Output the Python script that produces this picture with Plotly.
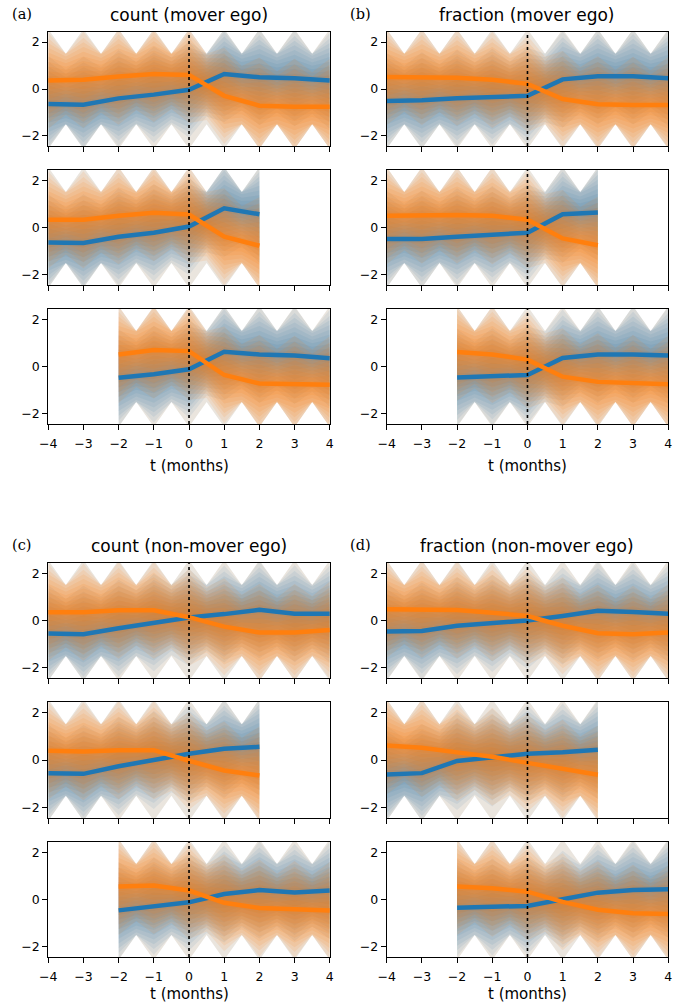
import plotly.graph_objects as go

W, H = 685, 1006

# ---------------- data ----------------
T_FULL = [-4, -3, -2, -1, 0, 1, 2, 3, 4]
T_PRE = [-4, -3, -2, -1, 0, 1, 2]
T_POST = [-2, -1, 0, 1, 2, 3, 4]
ROW_T = [T_FULL, T_PRE, T_POST]

titles = ["count (mover ego)", "fraction (mover ego)",
          "count (non-mover ego)", "fraction (non-mover ego)"]
letters = ["(a)", "(b)", "(c)", "(d)"]
x_ticks = [-4, -3, -2, -1, 0, 1, 2, 3, 4]
y_ticks = [-2, 0, 2]
x_label = "t (months)"

# (a) count (mover ego)
a1_blue = [-0.64, -0.67, -0.40, -0.24, -0.03, 0.64, 0.50, 0.46, 0.36]
a1_orange = [0.36, 0.39, 0.53, 0.64, 0.60, -0.29, -0.71, -0.76, -0.76]
a2_blue = [-0.63, -0.65, -0.39, -0.22, 0.04, 0.81, 0.56]
a2_orange = [0.33, 0.33, 0.50, 0.62, 0.55, -0.39, -0.77]
a3_blue = [-0.48, -0.33, -0.12, 0.62, 0.51, 0.46, 0.35]
a3_orange = [0.51, 0.70, 0.65, -0.36, -0.72, -0.75, -0.77]
# (b) fraction (mover ego)
b1_blue = [-0.51, -0.48, -0.39, -0.33, -0.29, 0.41, 0.54, 0.54, 0.46]
b1_orange = [0.51, 0.51, 0.48, 0.39, 0.22, -0.43, -0.65, -0.68, -0.68]
b2_blue = [-0.49, -0.49, -0.39, -0.30, -0.22, 0.56, 0.63]
b2_orange = [0.50, 0.53, 0.53, 0.50, 0.33, -0.46, -0.75]
b3_blue = [-0.46, -0.43, -0.36, 0.36, 0.51, 0.51, 0.46]
b3_orange = [0.61, 0.51, 0.29, -0.43, -0.65, -0.72, -0.75]
# (c) count (non-mover ego)
c1_blue = [-0.55, -0.58, -0.33, -0.09, 0.13, 0.27, 0.45, 0.29, 0.29]
c1_orange = [0.35, 0.35, 0.43, 0.43, 0.14, -0.26, -0.51, -0.51, -0.40]
c2_blue = [-0.55, -0.58, -0.26, 0.00, 0.26, 0.47, 0.55]
c2_orange = [0.39, 0.36, 0.41, 0.41, -0.03, -0.44, -0.65]
c3_blue = [-0.46, -0.29, -0.12, 0.23, 0.40, 0.30, 0.38]
c3_orange = [0.55, 0.59, 0.38, -0.14, -0.36, -0.42, -0.46]
# (d) fraction (non-mover ego)
d1_blue = [-0.47, -0.44, -0.22, -0.13, 0.00, 0.19, 0.41, 0.36, 0.29]
d1_orange = [0.48, 0.48, 0.44, 0.33, 0.19, -0.22, -0.54, -0.58, -0.51]
d2_blue = [-0.61, -0.55, -0.04, 0.10, 0.26, 0.32, 0.43]
d2_orange = [0.61, 0.51, 0.32, 0.14, -0.12, -0.36, -0.62]
d3_blue = [-0.35, -0.32, -0.27, 0.01, 0.29, 0.40, 0.43]
d3_orange = [0.55, 0.48, 0.33, -0.10, -0.43, -0.58, -0.61]

BLUE_SERIES = [[a1_blue, a2_blue, a3_blue], [b1_blue, b2_blue, b3_blue],
               [c1_blue, c2_blue, c3_blue], [d1_blue, d2_blue, d3_blue]]
ORANGE_SERIES = [[a1_orange, a2_orange, a3_orange], [b1_orange, b2_orange, b3_orange],
                 [c1_orange, c2_orange, c3_orange], [d1_orange, d2_orange, d3_orange]]

# spread of the individual trajectories, drawn as stacked translucent bands
# around each mean (half-widths at integer months), plus a faint outer envelope
band_halfwidths = [0.2, 0.4, 0.6, 0.8, 1.0, 1.2, 1.4, 1.6, 1.8, 2.05]
mid_ratio = 0.72
env_integer = 2.55
env_half = 1.5

# ---------------- layout geometry ----------------
BLUE = "#1f77b4"
ORANGE = "#ff7f0e"
col_x = [(40, 327), (385, 672)]
row_y = [[(32, 146), (170, 285), (309, 424)],
         [(563, 678), (702, 818), (842, 957)]]
group_pos = [(0, 0), (1, 0), (0, 1), (1, 1)]  # (col, block)
YR = [-2.43, 2.43]


def rgba(hexc, a):
    h = hexc.lstrip("#")
    return "rgba(%d,%d,%d,%.3f)" % (int(h[0:2], 16), int(h[2:4], 16), int(h[4:6], 16), a)


def band_poly(ts, m, w):
    """w=None -> full envelope"""
    xs, up, lo = [], [], []
    for i, t in enumerate(ts):
        xs.append(t)
        if w is None:
            up.append(env_integer); lo.append(-env_integer)
        else:
            up.append(min(env_integer, m[i] + w)); lo.append(max(-env_integer, m[i] - w))
        if i < len(ts) - 1:
            mm = (m[i] + m[i + 1]) / 2
            xs.append(t + 0.5)
            if w is None:
                up.append(env_half); lo.append(-env_half)
            else:
                up.append(min(env_half, mm + w * mid_ratio))
                lo.append(max(-env_half, mm - w * mid_ratio))
    return xs + xs[::-1], up + lo[::-1]


fig = go.Figure()
layout = dict(width=W, height=H, margin=dict(l=0, r=0, t=0, b=0),
              paper_bgcolor="white", plot_bgcolor="white", showlegend=False)
annotations = []
shapes = []

for g in range(4):
    col, block = group_pos[g]
    x0, x1 = col_x[col]
    for r in range(3):
        n = g * 3 + r + 1
        xa = "x" if n == 1 else "x%d" % n
        ya = "y" if n == 1 else "y%d" % n
        ts = ROW_T[r]
        mb = BLUE_SERIES[g][r]
        mo = ORANGE_SERIES[g][r]
        for m, c, a, ea in ((mb, BLUE, 0.095, 0.10), (mo, ORANGE, 0.105, 0.10)):
            px, py = band_poly(ts, m, None)
            fig.add_trace(go.Scatter(x=px, y=py, fill="toself", mode="lines",
                                     line=dict(width=0), fillcolor=rgba(c, ea),
                                     hoverinfo="skip", xaxis=xa, yaxis=ya))
            for w in band_halfwidths:
                px, py = band_poly(ts, m, w)
                fig.add_trace(go.Scatter(x=px, y=py, fill="toself", mode="lines",
                                         line=dict(width=0), fillcolor=rgba(c, a),
                                         hoverinfo="skip", xaxis=xa, yaxis=ya))
        fig.add_trace(go.Scatter(x=ts, y=mb, mode="lines", line=dict(color=BLUE, width=4.5),
                                 xaxis=xa, yaxis=ya))
        fig.add_trace(go.Scatter(x=ts, y=mo, mode="lines", line=dict(color=ORANGE, width=4.5),
                                 xaxis=xa, yaxis=ya))
        ytop, ybot = row_y[block][r]
        xkey = "xaxis" if n == 1 else "xaxis%d" % n
        ykey = "yaxis" if n == 1 else "yaxis%d" % n
        layout[xkey] = dict(domain=[x0 / W, x1 / W], anchor=ya, range=[-4, 4],
                            tickvals=x_ticks, ticktext=[str(v).replace("-", "\u2212") for v in x_ticks],
                            showticklabels=(r == 2), ticks="outside", ticklen=5, tickwidth=1,
                            tickcolor="black", showline=True, linecolor="black", linewidth=1,
                            mirror=True, showgrid=False, zeroline=False, ticklabelstandoff=3,
                            tickfont=dict(family="DejaVu Sans", size=12.5, color="black"))
        layout[ykey] = dict(domain=[1 - ybot / H, 1 - ytop / H], anchor=xa, range=YR,
                            tickvals=y_ticks, ticktext=[str(v).replace("-", "\u2212") for v in y_ticks],
                            ticks="outside", ticklen=5, tickwidth=1,
                            tickcolor="black", showline=True, linecolor="black", linewidth=1,
                            mirror=True, showgrid=False, zeroline=False,
                            tickfont=dict(family="DejaVu Sans", size=12.5, color="black"))
        shapes.append(dict(type="line", xref=xa, yref=ya + " domain", x0=0, x1=0, y0=0, y1=1,
                           line=dict(color="black", width=1.6, dash="dot"), layer="above"))
        if r == 2:
            annotations.append(dict(text=x_label, x=(x0 + x1) / 2 / W,
                                    y=1 - min(ybot + 42, 994) / H,
                                    xref="paper", yref="paper", showarrow=False,
                                    xanchor="center", yanchor="middle",
                                    font=dict(family="DejaVu Sans", size=15, color="black")))
    ttop = row_y[block][0][0]
    annotations.append(dict(text=titles[g], x=(x0 + x1) / 2 / W, y=1 - (ttop - 17) / H,
                            xref="paper", yref="paper", showarrow=False,
                            xanchor="center", yanchor="middle",
                            font=dict(family="DejaVu Sans", size=17, color="black")))
    annotations.append(dict(text=letters[g], x=(x0 - 39) / W, y=1 - (ttop - 18) / H,
                            xref="paper", yref="paper", showarrow=False,
                            xanchor="left", yanchor="middle",
                            font=dict(family="DejaVu Serif", size=14.5, color="black")))

layout["annotations"] = annotations
layout["shapes"] = shapes
fig.update_layout(**layout)
fig.write_html("out.html", config={"displayModeBar": False},
               post_script="document.body.style.margin='0';document.body.style.padding='0';")
